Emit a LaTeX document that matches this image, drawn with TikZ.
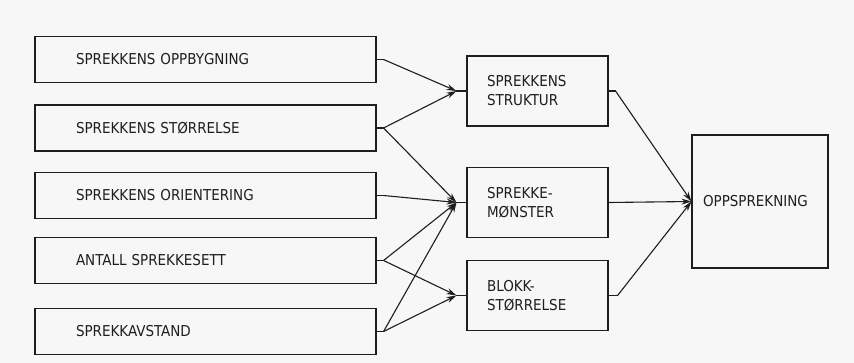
\documentclass[tikz,border=0pt]{standalone}
\usepackage{fontspec}
\setmainfont{DejaVu Sans Condensed}
\usetikzlibrary{arrows.meta}
\definecolor{bg}{HTML}{F7F7F7}
\definecolor{ink}{HTML}{1E1E1E}
\begin{document}
\begin{tikzpicture}[x=1pt,y=-1pt,
  every node/.style={font=\fontsize{15}{19}\selectfont, text=ink},
  box/.style={draw=ink, line width=1.1pt, rectangle, inner ysep=0pt},
  lbox/.style={box, text width=259pt, inner xsep=41pt, align=left, minimum height=46pt},
  mbox/.style={box, text width=101pt, inner xsep=20pt, align=left, minimum height=70pt},
  rbox/.style={box, text width=114pt, inner xsep=11pt, align=left, minimum height=133pt},
  link/.style={draw=ink, line width=1.1pt},
  arr/.style={link, -{Stealth[length=10pt,width=6pt]}}]
\fill[bg] (0,0) rectangle (854,363);
\useasboundingbox (0,0) rectangle (854,363);
% left boxes
\node[lbox] (b1) at (205.5,59.5) {SPREKKENS OPPBYGNING};
\node[lbox] (b2) at (205.5,128) {SPREKKENS STØRRELSE};
\node[lbox] (b3) at (205.5,195.5) {SPREKKENS ORIENTERING};
\node[lbox] (b4) at (205.5,260.5) {ANTALL SPREKKESETT};
\node[lbox] (b5) at (205.5,331.5) {SPREKKAVSTAND};
% middle boxes
\node[mbox] (ma) at (537.5,91) {SPREKKENS\\STRUKTUR};
\node[mbox] (mb) at (537.5,202.5) {SPREKKE-\\MØNSTER};
\node[mbox] (mc) at (537.5,295.5) {BLOKK-\\STØRRELSE};
% right box
\node[rbox] (d) at (760,201.5) {OPPSPREKNING};
% stub coordinates
\coordinate (s1) at ([xshift=7pt]b1.east);
\coordinate (s2) at ([xshift=7pt]b2.east);
\coordinate (s3) at ([xshift=7pt]b3.east);
\coordinate (s4) at ([xshift=7pt]b4.east);
\coordinate (s5) at ([xshift=7pt]b5.east);
\coordinate (ia) at ([xshift=-10pt]ma.west);
\coordinate (ib) at ([xshift=-10pt]mb.west);
\coordinate (ic) at ([xshift=-10pt]mc.west);
\coordinate (oa) at ([xshift=7pt]ma.east);
\coordinate (oc) at ([xshift=9pt]mc.east);
% left stubs
\foreach \i in {1,...,5} {\draw[link] (b\i.east) -- (s\i);}
% middle input stubs
\draw[link] (ia) -- (ma.west);
\draw[link] (ib) -- (mb.west);
\draw[link] (ic) -- (mc.west);
% connectors
\draw[arr] (s1) -- (ia);
\draw[arr] (s2) -- (ia);
\draw[arr] (s2) -- (ib);
\draw[arr] (s3) -- (ib);
\draw[arr] (s4) -- (ib);
\draw[arr] (s4) -- (ic);
\draw[arr] (s5) -- (ib);
\draw[arr] (s5) -- (ic);
% right side
\draw[link] (ma.east) -- (oa);
\draw[link] (mc.east) -- (oc);
\draw[arr] (oa) -- (d.west);
\draw[arr] (mb.east) -- (d.west);
\draw[arr] (oc) -- (d.west);
\end{tikzpicture}
\end{document}
